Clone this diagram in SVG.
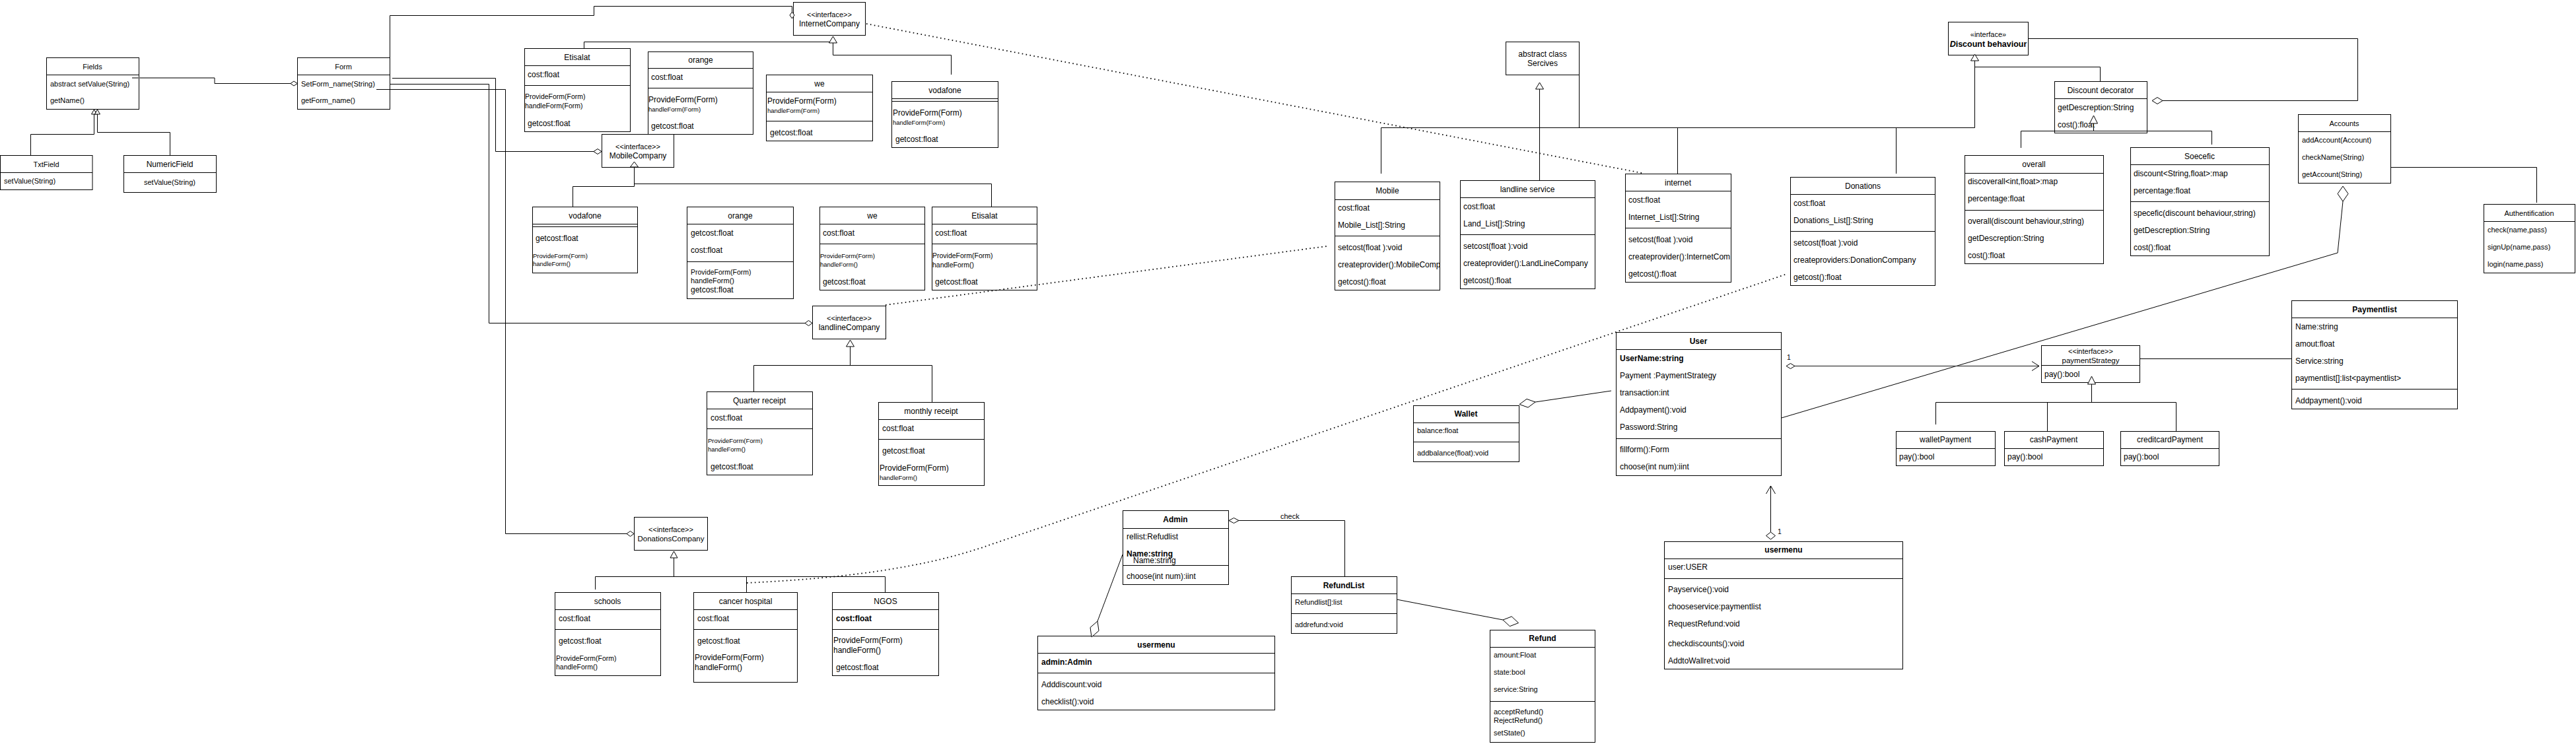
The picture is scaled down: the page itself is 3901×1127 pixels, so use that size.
<svg xmlns="http://www.w3.org/2000/svg" width="3901" height="1127" viewBox="0 0 3901 1127">
<style>
.box{fill:#fff;stroke:#000;stroke-width:1}
.ln{fill:none;stroke:#000;stroke-width:1}
.gr{fill:none;stroke:#777;stroke-width:2}
.dot{fill:none;stroke:#000;stroke-width:1.8;stroke-dasharray:1.6 4.4}
.tri{fill:#fff;stroke:#000;stroke-width:1}
.dia{fill:#fff;stroke:#000;stroke-width:1}
text{font-family:"Liberation Sans",Arial,sans-serif;font-size:12px;fill:#000}
.c{text-anchor:middle}
.b{font-weight:bold}
.s9{font-size:9.5px}
.s10{font-size:10.5px}
.s11{font-size:11px}
</style>
<defs>
<clipPath id="clipM"><rect x="2021" y="275" width="159" height="164"/></clipPath>
<clipPath id="clipI"><rect x="2461" y="263" width="160" height="164"/></clipPath>
</defs>
<rect width="3901" height="1127" fill="#fff"/>

<g id="Fields"><rect class="box" x="70.5" y="87.5" width="140" height="78"/><line class="ln" x1="70.5" y1="113.5" x2="210.5" y2="113.5"/>
<text class="c s11" x="140" y="105">Fields</text><text class="s11" x="76" y="131">abstract setValue(String)</text><text class="s11" x="76" y="156">getName()</text></g>
<g id="Form"><rect class="box" x="450.5" y="87.5" width="140" height="78"/><line class="ln" x1="450.5" y1="113.5" x2="590.5" y2="113.5"/>
<text class="c s11" x="520" y="105">Form</text><text class="s11" x="456" y="131">SetForm_name(String)</text><text class="s11" x="456" y="156">getForm_name()</text></g>
<g id="TxtField"><rect class="box" x="0.5" y="235.5" width="139.5" height="52"/><line class="ln" x1="0.5" y1="261.5" x2="140" y2="261.5"/>
<text class="c s11" x="70" y="253">TxtField</text><text class="s11" x="6" y="278">setValue(String)</text></g>
<g id="NumericField"><rect class="box" x="187.5" y="235.5" width="140" height="56"/><line class="ln" x1="187.5" y1="261.5" x2="327.5" y2="261.5"/>
<text class="c" x="257" y="253">NumericField</text><text class="c s11" x="257" y="280">setValue(String)</text></g>

<g id="InternetCompany"><rect class="box" x="1201.5" y="3.5" width="109" height="50"/>
<text class="c s11" x="1256" y="26">&lt;&lt;interface&gt;&gt;</text><text class="c" x="1256" y="40">InternetCompany</text></g>
<g id="EtisalatInternet"><rect class="box" x="794.5" y="73.5" width="160" height="126"/><line class="ln" x1="794.5" y1="99.5" x2="954.5" y2="99.5"/><line class="ln" x1="794.5" y1="129.5" x2="954.5" y2="129.5"/>
<text class="c" x="874" y="91">Etisalat</text><text x="799" y="117">cost:float</text><text class="s10" x="795" y="150">ProvideForm(Form)</text><text class="s10" x="795" y="164">handleForm(Form)</text><text x="799" y="191">getcost:float</text></g>
<g id="orangeInternet"><rect class="box" x="981.5" y="78.5" width="159" height="125"/><line class="ln" x1="981.5" y1="103.5" x2="1140.5" y2="103.5"/><line class="ln" x1="981.5" y1="133.5" x2="1140.5" y2="133.5"/>
<text class="c" x="1061" y="95">orange</text><text x="986" y="121">cost:float</text><text x="982" y="155">ProvideForm(Form)</text><text class="s9" x="982" y="169">handleForm(Form)</text><text x="986" y="195">getcost:float</text></g>
<g id="weInternet"><rect class="box" x="1160.5" y="113.5" width="161" height="100"/><line class="ln" x1="1160.5" y1="139.5" x2="1321.5" y2="139.5"/><line class="ln" x1="1160.5" y1="183.5" x2="1321.5" y2="183.5"/>
<text class="c" x="1241" y="131">we</text><text x="1162" y="157">ProvideForm(Form)</text><text class="s9" x="1162" y="171">handleForm(Form)</text><text x="1166" y="205">getcost:float</text></g>
<g id="vodafoneInternet"><rect class="box" x="1350.5" y="123.5" width="161" height="100"/><line class="ln" x1="1350.5" y1="149.5" x2="1511.5" y2="149.5"/><line class="ln" x1="1350.5" y1="153.5" x2="1511.5" y2="153.5"/>
<text class="c" x="1431" y="141">vodafone</text><text x="1352" y="175">ProvideForm(Form)</text><text class="s9" x="1352" y="189">handleForm(Form)</text><text x="1356" y="215">getcost:float</text></g>

<g id="MobileCompany"><rect class="box" x="911.5" y="203.5" width="109" height="50"/>
<text class="c s11" x="966" y="226">&lt;&lt;interface&gt;&gt;</text><text class="c" x="966" y="240">MobileCompany</text></g>
<g id="vodafoneMobile"><rect class="box" x="806.5" y="313.5" width="159" height="100"/><line class="ln" x1="806.5" y1="339.5" x2="965.5" y2="339.5"/><line class="ln" x1="806.5" y1="343.5" x2="965.5" y2="343.5"/>
<text class="c" x="886" y="331">vodafone</text><text x="811" y="365">getcost:float</text><text class="s9" x="807" y="391">ProvideForm(Form)</text><text class="s9" x="807" y="403">handleForm()</text></g>
<g id="orangeMobile"><rect class="box" x="1040.5" y="313.5" width="161" height="139"/><line class="ln" x1="1040.5" y1="339.5" x2="1201.5" y2="339.5"/><line class="ln" x1="1040.5" y1="396.5" x2="1201.5" y2="396.5"/>
<text class="c" x="1121" y="331">orange</text><text x="1046" y="357">getcost:float</text><text x="1046" y="383">cost:float</text><text class="s10" x="1046" y="416">ProvideForm(Form)</text><text class="s11" x="1046" y="429">handleForm()</text><text x="1046" y="443">getcost:float</text></g>
<g id="weMobile"><rect class="box" x="1241.5" y="313.5" width="159" height="126"/><line class="ln" x1="1241.5" y1="339.5" x2="1400.5" y2="339.5"/><line class="ln" x1="1241.5" y1="369.5" x2="1400.5" y2="369.5"/>
<text class="c" x="1321" y="331">we</text><text x="1246" y="357">cost:float</text><text class="s9" x="1242" y="391">ProvideForm(Form)</text><text class="s9" x="1242" y="404">handleForm()</text><text x="1246" y="431">getcost:float</text></g>
<g id="EtisalatMobile"><rect class="box" x="1411.5" y="313.5" width="159" height="126"/><line class="ln" x1="1411.5" y1="339.5" x2="1570.5" y2="339.5"/><line class="ln" x1="1411.5" y1="369.5" x2="1570.5" y2="369.5"/>
<text class="c" x="1491" y="331">Etisalat</text><text x="1416" y="357">cost:float</text><text class="s10" x="1412" y="391">ProvideForm(Form)</text><text class="s10" x="1412" y="405">handleForm()</text><text x="1416" y="431">getcost:float</text></g>

<g id="landlineCompany"><rect class="box" x="1230.5" y="463.5" width="111" height="50"/>
<text class="c s11" x="1286" y="486">&lt;&lt;interface&gt;&gt;</text><text class="c" x="1286" y="500">landlineCompany</text></g>
<g id="QuarterReceipt"><rect class="box" x="1070.5" y="593.5" width="160" height="126"/><line class="ln" x1="1070.5" y1="619.5" x2="1230.5" y2="619.5"/><line class="ln" x1="1070.5" y1="649.5" x2="1230.5" y2="649.5"/>
<text class="c" x="1150" y="611">Quarter receipt</text><text x="1076" y="637">cost:float</text><text class="s9" x="1072" y="671">ProvideForm(Form)</text><text class="s9" x="1072" y="684">handleForm()</text><text x="1076" y="711">getcost:float</text></g>
<g id="MonthlyReceipt"><rect class="box" x="1330.5" y="609.5" width="160" height="126"/><line class="ln" x1="1330.5" y1="635.5" x2="1490.5" y2="635.5"/><line class="ln" x1="1330.5" y1="665.5" x2="1490.5" y2="665.5"/>
<text class="c" x="1410" y="627">monthly receipt</text><text x="1336" y="653">cost:float</text><text x="1336" y="687">getcost:float</text><text x="1332" y="713">ProvideForm(Form)</text><text class="s9" x="1332" y="727">handleForm()</text></g>

<g id="DonationsCompany"><rect class="box" x="960.5" y="783.5" width="111" height="50"/>
<text class="c s11" x="1016" y="806">&lt;&lt;interface&gt;&gt;</text><text class="c" x="1016" y="820" style="font-size:11.5px">DonationsCompany</text></g>
<g id="schools"><rect class="box" x="840.5" y="897.5" width="160" height="126"/><line class="ln" x1="840.5" y1="923.5" x2="1000.5" y2="923.5"/><line class="ln" x1="840.5" y1="953.5" x2="1000.5" y2="953.5"/>
<text class="c" x="920" y="915">schools</text><text x="846" y="941">cost:float</text><text x="846" y="975">getcost:float</text><text class="s10" x="842" y="1001">ProvideForm(Form)</text><text class="s10" x="842" y="1014">handleForm()</text></g>
<g id="cancerHospital"><rect class="box" x="1050.5" y="897.5" width="157" height="136"/><line class="ln" x1="1050.5" y1="923.5" x2="1207.5" y2="923.5"/><line class="ln" x1="1050.5" y1="953.5" x2="1207.5" y2="953.5"/>
<text class="c" x="1129" y="915">cancer hospital</text><text x="1056" y="941">cost:float</text><text x="1056" y="975">getcost:float</text><text x="1052" y="1000">ProvideForm(Form)</text><text x="1052" y="1015">handleForm()</text></g>
<g id="NGOS"><rect class="box" x="1260.5" y="897.5" width="161" height="126"/><line class="ln" x1="1260.5" y1="923.5" x2="1421.5" y2="923.5"/><line class="ln" x1="1260.5" y1="953.5" x2="1421.5" y2="953.5"/>
<text class="c" x="1341" y="915">NGOS</text><text class="b" x="1266" y="941">cost:float</text><text x="1262" y="974">ProvideForm(Form)</text><text x="1262" y="989">handleForm()</text><text x="1266" y="1015">getcost:float</text></g>

<g id="Sercives"><rect class="box" x="2280.5" y="63.5" width="111" height="50"/>
<text class="c" x="2336" y="86">abstract class</text><text class="c" x="2336" y="100">Sercives</text></g>
<g id="Mobile"><rect class="box" x="2021.5" y="275.5" width="159" height="164"/><line class="ln" x1="2021.5" y1="302.5" x2="2180.5" y2="302.5"/><line class="ln" x1="2021.5" y1="357.5" x2="2180.5" y2="357.5"/>
<text class="c" x="2101" y="293">Mobile</text><text x="2026" y="319">cost:float</text><text x="2026" y="345">Mobile_List[]:String</text><text x="2026" y="379">setcost(float ):void</text><text x="2026" y="405" clip-path="url(#clipM)">createprovider():MobileComp</text><text x="2026" y="431">getcost():float</text></g>
<g id="landlineService"><rect class="box" x="2211.5" y="273.5" width="204" height="164"/><line class="ln" x1="2211.5" y1="299.5" x2="2415.5" y2="299.5"/><line class="ln" x1="2211.5" y1="355.5" x2="2415.5" y2="355.5"/>
<text class="c" x="2313" y="291">landline service</text><text x="2216" y="317">cost:float</text><text x="2216" y="343">Land_List[]:String</text><text x="2216" y="377">setcost(float ):void</text><text x="2216" y="403">createprovider():LandLineCompany</text><text x="2216" y="429">getcost():float</text></g>
<g id="internet"><rect class="box" x="2461.5" y="263.5" width="160" height="164"/><line class="ln" x1="2461.5" y1="289.5" x2="2621.5" y2="289.5"/><line class="ln" x1="2461.5" y1="345.5" x2="2621.5" y2="345.5"/>
<text class="c" x="2541" y="281">internet</text><text x="2466" y="307">cost:float</text><text x="2466" y="333">Internet_List[]:String</text><text x="2466" y="367">setcost(float ):void</text><text x="2466" y="393" clip-path="url(#clipI)">createprovider():InternetCom</text><text x="2466" y="419">getcost():float</text></g>
<g id="Donations"><rect class="box" x="2711.5" y="268.5" width="219" height="164"/><line class="ln" x1="2711.5" y1="294.5" x2="2930.5" y2="294.5"/><line class="ln" x1="2711.5" y1="350.5" x2="2930.5" y2="350.5"/>
<text class="c" x="2821" y="286">Donations</text><text x="2716" y="312">cost:float</text><text x="2716" y="338">Donations_List[]:String</text><text x="2716" y="372">setcost(float ):void</text><text x="2716" y="398">createproviders:DonationCompany</text><text x="2716" y="424">getcost():float</text></g>

<g id="DiscountBehaviour"><rect class="box" x="2950.5" y="33.5" width="121" height="50"/>
<text class="c s11" x="3011" y="56">«interface»</text><text class="c b" x="3011" y="71" style="font-size:12.5px"><tspan font-style="italic">D</tspan>iscount behaviour</text></g>
<g id="DiscountDecorator"><rect class="box" x="3111.5" y="123.5" width="140" height="78"/><line class="ln" x1="3111.5" y1="149.5" x2="3251.5" y2="149.5"/>
<text class="c" x="3181" y="141">Discount decorator</text><text x="3116" y="167">getDescreption:String</text><text x="3116" y="193">cost():float</text></g>
<g id="overall"><rect class="box" x="2975.5" y="235.5" width="210" height="164"/><line class="ln" x1="2975.5" y1="262.5" x2="3185.5" y2="262.5"/><line class="ln" x1="2975.5" y1="318.5" x2="3185.5" y2="318.5"/>
<text class="c" x="3080" y="253">overall</text><text x="2980" y="279">discoverall&lt;int,float&gt;:map</text><text x="2980" y="305">percentage:float</text><text x="2980" y="339">overall(discount behaviour,string)</text><text x="2980" y="365">getDescreption:String</text><text x="2980" y="391">cost():float</text></g>
<g id="Soecefic"><rect class="box" x="3226.5" y="223.5" width="210" height="164"/><line class="ln" x1="3226.5" y1="249.5" x2="3436.5" y2="249.5"/><line class="ln" x1="3226.5" y1="305.5" x2="3436.5" y2="305.5"/>
<text class="c" x="3331" y="241">Soecefic</text><text x="3231" y="267">discount&lt;String,float&gt;:map</text><text x="3231" y="293">percentage:float</text><text x="3231" y="327">specefic(discount behaviour,string)</text><text x="3231" y="353">getDescreption:String</text><text x="3231" y="379">cost():float</text></g>
<g id="Accounts"><rect class="box" x="3480.5" y="173.5" width="140" height="104"/><line class="ln" x1="3480.5" y1="199.5" x2="3620.5" y2="199.5"/>
<text class="c s11" x="3550" y="191">Accounts</text><text class="s11" x="3486" y="216">addAccount(Account)</text><text class="s11" x="3486" y="242">checkName(String)</text><text class="s11" x="3486" y="268">getAccount(String)</text></g>
<g id="Authentification"><rect class="box" x="3761.5" y="309.5" width="138" height="104"/><line class="ln" x1="3761.5" y1="335.5" x2="3899.5" y2="335.5"/>
<text class="c s11" x="3830" y="327">Authentification</text><text class="s11" x="3767" y="352">check(name,pass)</text><text class="s11" x="3767" y="378">signUp(name,pass)</text><text class="s11" x="3767" y="404">login(name,pass)</text></g>

<g id="User"><rect class="box" x="2447.5" y="503.5" width="250" height="217"/><line class="ln" x1="2447.5" y1="529.5" x2="2697.5" y2="529.5"/><line class="ln" x1="2447.5" y1="664.5" x2="2697.5" y2="664.5"/>
<text class="c b" x="2572" y="521">User</text><text class="b" x="2453" y="547">UserName:string</text><text x="2453" y="573">Payment :PaymentStrategy</text><text x="2453" y="599">transaction:int</text><text x="2453" y="625">Addpayment():void</text><text x="2453" y="651">Password:String</text><text x="2453" y="685">fillform():Form</text><text x="2453" y="711">choose(int num):iint</text></g>
<g id="Wallet"><rect class="box" x="2140.5" y="614.5" width="160" height="85"/><line class="ln" x1="2140.5" y1="640.5" x2="2300.5" y2="640.5"/><line class="ln" x1="2140.5" y1="669.5" x2="2300.5" y2="669.5"/>
<text class="c b" x="2220" y="631">Wallet</text><text class="s11" x="2146" y="656">balance:float</text><text class="s11" x="2146" y="690">addbalance(float):void</text></g>
<g id="usermenuUser"><rect class="box" x="2520.5" y="820.5" width="361" height="193"/><line class="ln" x1="2520.5" y1="846.5" x2="2881.5" y2="846.5"/><line class="ln" x1="2520.5" y1="876.5" x2="2881.5" y2="876.5"/>
<text class="c b" x="2701" y="837">usermenu</text><text x="2526" y="863">user:USER</text><text x="2526" y="897">Payservice():void</text><text x="2526" y="923">chooseservice:paymentlist</text><text x="2526" y="949">RequestRefund:void</text><text x="2526" y="979">checkdiscounts():void</text><text x="2526" y="1005">AddtoWallret:void</text></g>
<g id="paymentStrategy"><rect class="box" x="3091.5" y="523.5" width="149" height="56"/><line class="ln" x1="3091.5" y1="553.5" x2="3240.5" y2="553.5"/>
<text class="c s11" x="3166" y="536">&lt;&lt;interface&gt;&gt;</text><text class="c" x="3166" y="550" style="font-size:11.5px">paymentStrategy</text><text x="3096" y="571">pay():bool</text></g>
<g id="walletPayment"><rect class="box" x="2871.5" y="653.5" width="150" height="52"/><line class="ln" x1="2871.5" y1="679.5" x2="3021.5" y2="679.5"/>
<text class="c" x="2946" y="670">walletPayment</text><text x="2876" y="696">pay():bool</text></g>
<g id="cashPayment"><rect class="box" x="3035.5" y="653.5" width="150" height="52"/><line class="ln" x1="3035.5" y1="679.5" x2="3185.5" y2="679.5"/>
<text class="c" x="3110" y="670">cashPayment</text><text x="3040" y="696">pay():bool</text></g>
<g id="creditcardPayment"><rect class="box" x="3211.5" y="653.5" width="149" height="52"/><line class="ln" x1="3211.5" y1="679.5" x2="3360.5" y2="679.5"/>
<text class="c" x="3286" y="670">creditcardPayment</text><text x="3216" y="696">pay():bool</text></g>
<g id="Paymentlist"><rect class="box" x="3470.5" y="455.5" width="251" height="164"/><line class="ln" x1="3470.5" y1="481.5" x2="3721.5" y2="481.5"/><line class="ln" x1="3470.5" y1="589.5" x2="3721.5" y2="589.5"/>
<text class="c b" x="3596" y="473">Paymentlist</text><text x="3476" y="499">Name:string</text><text x="3476" y="525">amout:float</text><text x="3476" y="551">Service:string</text><text x="3476" y="577">paymentlist[]:list&lt;paymentlist&gt;</text><text x="3476" y="611">Addpayment():void</text></g>

<g id="Admin"><rect class="box" x="1700.5" y="773.5" width="160" height="112"/><line class="ln" x1="1700.5" y1="800.5" x2="1860.5" y2="800.5"/><line class="ln" x1="1700.5" y1="856.5" x2="1860.5" y2="856.5"/>
<text class="c b" x="1780" y="791">Admin</text><text x="1706" y="817">rellist:Refudlist</text><text class="b" x="1706" y="843">Name:string</text><text x="1716" y="853">Name:string</text><text x="1706" y="877">choose(int num):iint</text></g>
<g id="RefundList"><rect class="box" x="1955.5" y="873.5" width="160" height="86"/><line class="ln" x1="1955.5" y1="899.5" x2="2115.5" y2="899.5"/><line class="ln" x1="1955.5" y1="929.5" x2="2115.5" y2="929.5"/>
<text class="c b" x="2035" y="891">RefundList</text><text class="s11" x="1961" y="916">Refundlist[]:list</text><text class="s11" x="1961" y="950">addrefund:void</text></g>
<g id="Refund"><rect class="box" x="2256.5" y="954.5" width="159" height="170"/><line class="ln" x1="2256.5" y1="980.5" x2="2415.5" y2="980.5"/><line class="ln" x1="2256.5" y1="1062.5" x2="2415.5" y2="1062.5"/>
<text class="c b" x="2336" y="971">Refund</text><text class="s11" x="2262" y="996">amount:Float</text><text class="s11" x="2262" y="1022">state:bool</text><text class="s11" x="2262" y="1048">service:String</text><text class="s11" x="2262" y="1082">acceptRefund()</text><text class="s11" x="2262" y="1095">RejectRefund()</text><text class="s11" x="2262" y="1114">setState()</text></g>
<g id="usermenuAdmin"><rect class="box" x="1571.5" y="963.5" width="359" height="112"/><line class="ln" x1="1571.5" y1="989.5" x2="1930.5" y2="989.5"/><line class="ln" x1="1571.5" y1="1019.5" x2="1930.5" y2="1019.5"/>
<text class="c b" x="1751" y="981">usermenu</text><text class="b" x="1577" y="1007">admin:Admin</text><text x="1577" y="1041">Adddiscount:void</text><text x="1577" y="1067">checklist():void</text></g>

<g id="connectors">
<line class="gr" x1="200" y1="118" x2="325" y2="118"/>
<polyline class="ln" points="325,118 325,126.5 440,126.5"/>
<polygon class="dia" points="440,126.5 445,123 450.5,126.5 445,130"/>
<polyline class="ln" points="46.5,235 46.5,203.5 142.5,203.5 142.5,173"/>
<polyline class="ln" points="257.5,235 257.5,200.5 147.5,200.5 147.5,173"/>
<polygon class="tri" points="142.5,166 138.5,173 146.5,173"/>
<polygon class="tri" points="147.5,166 143.5,173 151.5,173"/>

<polyline class="ln" points="590.5,87 590.5,23.5 899.5,23.5 899.5,9.5 1199.5,9.5 1199.5,18"/>
<polygon class="dia" points="1199.5,18 1203,23 1199.5,28 1196,23"/>
<polyline class="ln" points="594,118.5 750.5,118.5 750.5,229.5 899,229.5"/>
<polygon class="dia" points="899,229.5 905,225.5 911,229.5 905,233.5"/>
<polyline class="ln" points="590.5,127.5 740.5,127.5 740.5,489.5 1219,489.5"/>
<polygon class="dia" points="1219,489.5 1224.5,485.5 1230,489.5 1224.5,493.5"/>
<polyline class="ln" points="570,135.5 765.5,135.5 765.5,808.5 949,808.5"/>
<polygon class="dia" points="949,808.5 954.5,804.5 960,808.5 954.5,812.5"/>

<polyline class="ln" points="884.5,73 884.5,63.5 1258,63.5"/>
<polyline class="ln" points="1440.5,113 1440.5,83.5 1261.5,83.5 1261.5,65"/>
<polygon class="tri" points="1261.5,55 1255.5,65 1267.5,65"/>

<polyline class="ln" points="960.5,253 960.5,282.5 867.5,282.5 867.5,313"/>
<polyline class="ln" points="960.5,278.5 1501.5,278.5 1501.5,313"/>
<polygon class="tri" points="960.5,245 954.5,253 966.5,253"/>

<line class="ln" x1="1287.5" y1="525" x2="1287.5" y2="553.5"/>
<polyline class="ln" points="1141.5,593 1141.5,553.5 1411.5,553.5 1411.5,609"/>
<polygon class="tri" points="1287.5,515 1281.5,525 1293.5,525"/>

<line class="ln" x1="1020.5" y1="845" x2="1020.5" y2="873.5"/>
<polyline class="ln" points="901.5,893 901.5,873.5 1340.5,873.5 1340.5,897"/>
<line class="ln" x1="1130.5" y1="873.5" x2="1130.5" y2="897"/>
<polygon class="tri" points="1020.5,835 1015,845 1026,845"/>

<line class="dot" x1="1312" y1="36" x2="2486" y2="262"/>
<line class="dot" x1="1341" y1="462" x2="2009" y2="373"/>
<path class="dot" d="M1131,883 C1230,878 1380,868 1500,825 L2706,415"/>

<line class="ln" x1="2331.5" y1="135" x2="2331.5" y2="273"/>
<line class="ln" x1="2391.5" y1="113" x2="2391.5" y2="193.5"/>
<line class="ln" x1="2091.5" y1="193.5" x2="2990.5" y2="193.5"/>
<line class="ln" x1="2091.5" y1="193.5" x2="2091.5" y2="263"/>
<line class="ln" x1="2540.5" y1="193.5" x2="2540.5" y2="263"/>
<line class="ln" x1="2871.5" y1="193.5" x2="2871.5" y2="263"/>
<line class="ln" x1="2990.5" y1="193.5" x2="2990.5" y2="92"/>
<polygon class="tri" points="2331.5,125 2325.5,135 2337.5,135"/>
<polyline class="ln" points="2990.5,101.5 3180.5,101.5 3180.5,123"/>
<polygon class="tri" points="2990.5,82 2984.5,92 2996.5,92"/>

<polyline class="ln" points="3071,58.5 3570.5,58.5 3570.5,152.5 3275,152.5"/>
<polygon class="dia" points="3275,152.5 3267,147.5 3259,152.5 3267,157.5"/>
<line class="ln" x1="3170.5" y1="187" x2="3170.5" y2="198.5"/>
<polyline class="ln" points="3060.5,224 3060.5,198.5 3349.5,198.5 3349.5,219"/>
<polygon class="tri" points="3170.5,175 3164.5,187 3176.5,187"/>

<polyline class="ln" points="3620.5,253.5 3841.5,253.5 3841.5,307"/>
<polyline class="ln" points="3548,305 3540,383 2698,633"/>
<polygon class="dia" points="3548,282 3556,293.5 3548,305 3540,293.5"/>

<line class="ln" x1="2440" y1="592" x2="2325" y2="609"/>
<polygon class="dia" points="2325,609 2314,617.2 2301,612.5 2312,604.4"/>

<polygon class="dia" points="2705,554.5 2711.5,550.5 2718,554.5 2711.5,558.5"/>
<line x1="2718" y1="554.5" x2="3088" y2="554.5" stroke="#555" stroke-width="1.5"/>
<polyline class="ln" points="3077,547.5 3088,554.5 3077,561.5"/>
<text class="s10" x="2706" y="545">1</text>

<line class="ln" x1="3240.5" y1="543.5" x2="3470.5" y2="543.5"/>
<line class="ln" x1="3167.5" y1="582" x2="3167.5" y2="609.5"/>
<line class="ln" x1="2931.5" y1="609.5" x2="3295.5" y2="609.5"/>
<line class="ln" x1="2931.5" y1="609.5" x2="2931.5" y2="643"/>
<line class="ln" x1="3100.5" y1="609.5" x2="3100.5" y2="653"/>
<line class="ln" x1="3295.5" y1="609.5" x2="3295.5" y2="653"/>
<polygon class="tri" points="3167.5,570 3161.5,582 3173.5,582"/>

<line class="ln" x1="2681.5" y1="806" x2="2681.5" y2="736"/>
<polyline class="ln" points="2674.5,748 2681.5,736 2688.5,748"/>
<polygon class="dia" points="2681.5,806 2688.5,811.5 2681.5,817 2674.5,811.5"/>
<text class="s10" x="2692" y="809">1</text>

<polygon class="dia" points="1861,788.5 1868.5,784.5 1876,788.5 1868.5,792.5"/>
<polyline class="ln" points="1876,788.5 2036.5,788.5 2036.5,873"/>
<text class="s11" x="1939" y="786">check</text>

<line class="ln" x1="2115" y1="908" x2="2276" y2="939"/>
<polygon class="dia" points="2276,939 2289.2,933.9 2299.5,943.6 2286.4,948.7"/>

<line class="ln" x1="1700" y1="840" x2="1662" y2="941"/>
<polygon class="dia" points="1662,941 1664,955.5 1653,965 1651,950.5"/>
</g>
</svg>
